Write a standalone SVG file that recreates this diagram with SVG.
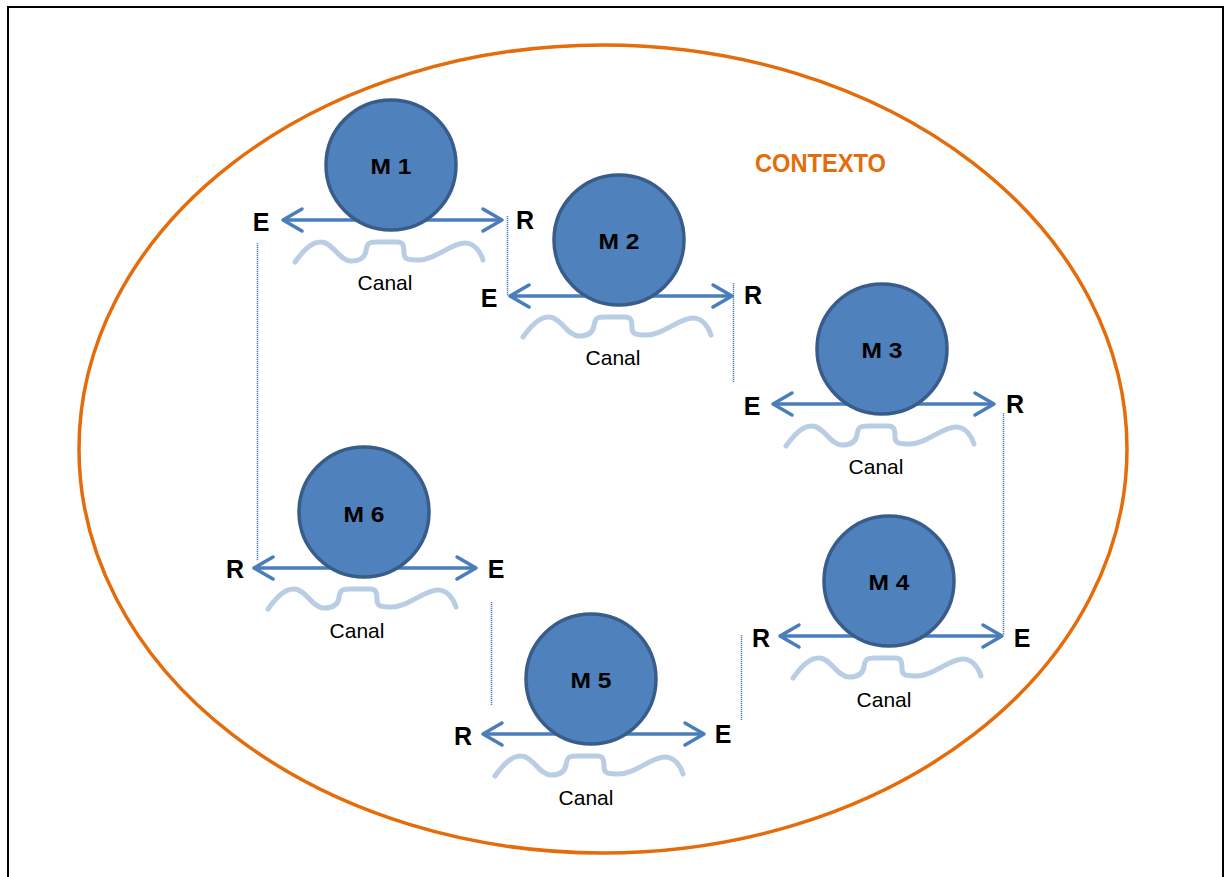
<svg xmlns="http://www.w3.org/2000/svg" xmlns:xlink="http://www.w3.org/1999/xlink" width="1225" height="877" viewBox="0 0 1225 877">
<style>
.frame{fill:#fff;stroke:#000;stroke-width:2}
.ctx{fill:none;stroke:#E46C0A;stroke-width:3.5}
.ctxt{font-family:"Liberation Sans",Arial,sans-serif;font-weight:bold;font-size:25px;fill:#E46C0A}
.m{fill:#4F81BD;stroke:#385D8A;stroke-width:3.5}
.mt{font-family:"Liberation Sans",Arial,sans-serif;font-weight:bold;font-size:22px;fill:#000;text-anchor:middle}
.lab{font-family:"Liberation Sans",Arial,sans-serif;font-weight:bold;font-size:25px;fill:#000;text-anchor:middle}
.canal{font-family:"Liberation Sans",Arial,sans-serif;font-size:21px;fill:#000;text-anchor:middle}
.wave{fill:none;stroke:#B9CDE5;stroke-width:5;stroke-linecap:round;stroke-linejoin:round}
.arr{fill:none;stroke:#4A7EBB;stroke-width:3.5;marker-start:url(#ah);marker-end:url(#ah)}
.dot{fill:none;stroke:#4A7EBB;stroke-width:1.5;stroke-dasharray:1.2 0.8}
</style>
<defs>
<marker id="ah" markerUnits="userSpaceOnUse" markerWidth="30" markerHeight="30" viewBox="-25 -15 30 30" refX="0" refY="0" orient="auto-start-reverse">
<path d="M-19,-11 L0,0 L-19,11" fill="none" stroke="#4A7EBB" stroke-width="3.5" stroke-linecap="round" stroke-linejoin="round"/>
</marker>
<path id="wave" class="wave" d="M-96,97 C-88,86 -80,77 -70,77 C-58,77 -52,96 -40,96 C-30,96 -26,92 -25,86 C-24,78 -22,77 -14,77 L6,77 C12,77 13,80 13,88 C13,94 16,95 28,95 C44,95 60,78 74,78 C84,78 90,88 92,95"/>
</defs>
<rect class="frame" x="8" y="7" width="1215" height="900"/>
<g id="contexto">
<ellipse class="ctx" cx="603" cy="449" rx="524" ry="404"/>
<text class="ctxt" x="755" y="172" textLength="131" lengthAdjust="spacingAndGlyphs">CONTEXTO</text>
</g>
<g id="connectors">
<line class="arr" x1="283" y1="220" x2="502" y2="220"/>
<line class="arr" x1="510" y1="296" x2="732" y2="296"/>
<line class="arr" x1="773" y1="404" x2="994" y2="404"/>
<line class="arr" x1="780" y1="636" x2="1002" y2="636"/>
<line class="arr" x1="483" y1="734" x2="704" y2="734"/>
<line class="arr" x1="254" y1="568" x2="476" y2="568"/>
<line class="dot" x1="257.5" y1="243" x2="257.5" y2="561"/>
<line class="dot" x1="507.5" y1="216" x2="507.5" y2="296"/>
<line class="dot" x1="733.5" y1="283" x2="733.5" y2="382"/>
<line class="dot" x1="1003.5" y1="413" x2="1003.5" y2="635"/>
<line class="dot" x1="741.5" y1="635" x2="741.5" y2="720"/>
<line class="dot" x1="491.5" y1="602" x2="491.5" y2="705"/>
</g>
<g id="m1">
<circle class="m" cx="391" cy="165" r="65"/>
<text class="mt" x="391" y="174" textLength="41" lengthAdjust="spacingAndGlyphs">M 1</text>
<use xlink:href="#wave" href="#wave" transform="translate(391,165)"/>
<text class="canal" x="385" y="290">Canal</text>
<text class="lab" x="261" y="231">E</text>
<text class="lab" x="525" y="229">R</text>
</g>
<g id="m2">
<circle class="m" cx="619" cy="240" r="65"/>
<text class="mt" x="619" y="249" textLength="41" lengthAdjust="spacingAndGlyphs">M 2</text>
<use xlink:href="#wave" href="#wave" transform="translate(619,240)"/>
<text class="canal" x="613" y="365">Canal</text>
<text class="lab" x="489" y="307">E</text>
<text class="lab" x="753" y="304">R</text>
</g>
<g id="m3">
<circle class="m" cx="882" cy="349" r="65"/>
<text class="mt" x="882" y="358" textLength="41" lengthAdjust="spacingAndGlyphs">M 3</text>
<use xlink:href="#wave" href="#wave" transform="translate(882,349)"/>
<text class="canal" x="876" y="474">Canal</text>
<text class="lab" x="752" y="415">E</text>
<text class="lab" x="1015" y="413">R</text>
</g>
<g id="m4">
<circle class="m" cx="889" cy="581" r="65"/>
<text class="mt" x="889" y="590" textLength="41" lengthAdjust="spacingAndGlyphs">M 4</text>
<use xlink:href="#wave" href="#wave" transform="translate(889,581)"/>
<text class="canal" x="884" y="707">Canal</text>
<text class="lab" x="761" y="647">R</text>
<text class="lab" x="1022" y="647">E</text>
</g>
<g id="m5">
<circle class="m" cx="591" cy="679" r="65"/>
<text class="mt" x="591" y="688" textLength="41" lengthAdjust="spacingAndGlyphs">M 5</text>
<use xlink:href="#wave" href="#wave" transform="translate(591,679)"/>
<text class="canal" x="586" y="805">Canal</text>
<text class="lab" x="463" y="745">R</text>
<text class="lab" x="723" y="743">E</text>
</g>
<g id="m6">
<circle class="m" cx="364" cy="512" r="65"/>
<text class="mt" x="364" y="522" textLength="41" lengthAdjust="spacingAndGlyphs">M 6</text>
<use xlink:href="#wave" href="#wave" transform="translate(364,512)"/>
<text class="canal" x="357" y="638">Canal</text>
<text class="lab" x="235" y="578">R</text>
<text class="lab" x="496" y="578">E</text>
</g>
</svg>
